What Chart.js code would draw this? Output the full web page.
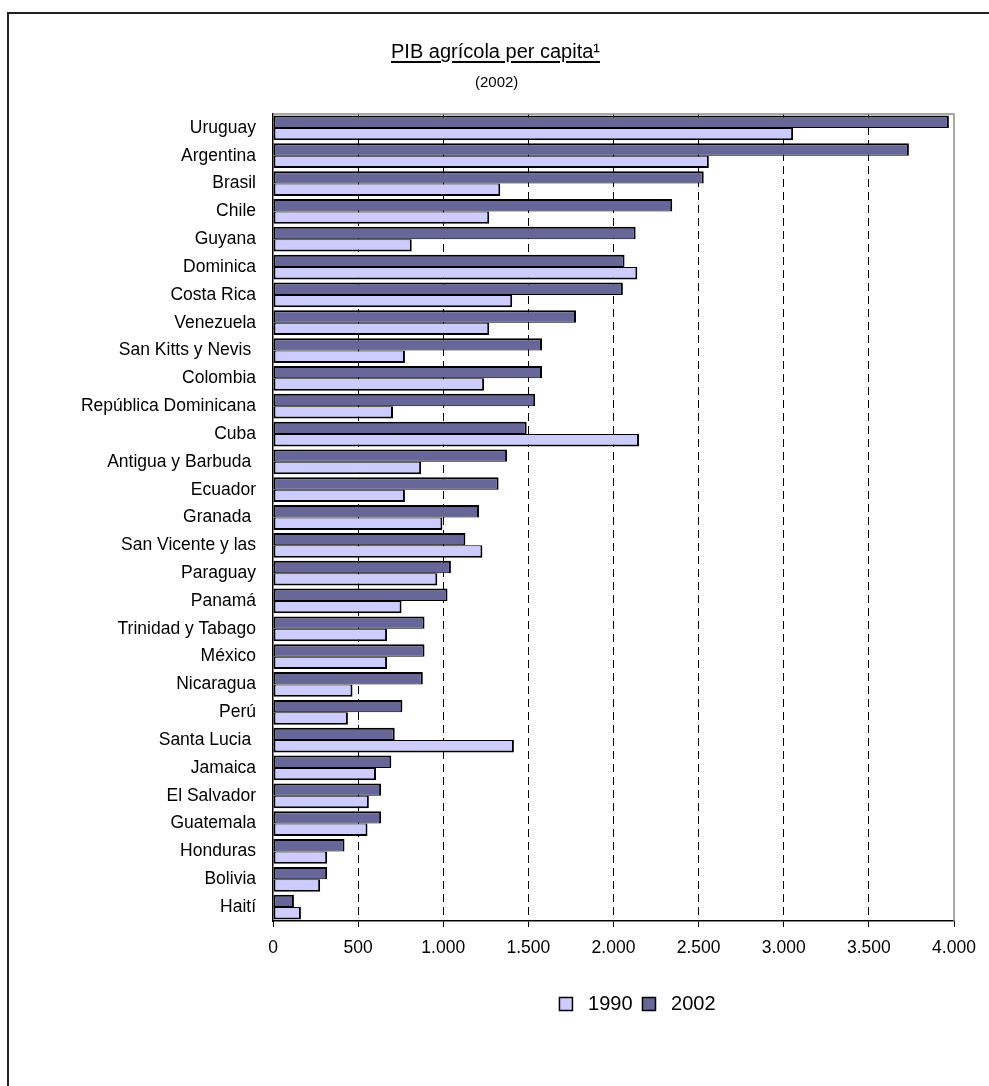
<!DOCTYPE html>
<html>
<head>
<meta charset="utf-8">
<script src="https://cdn.jsdelivr.net/npm/chart.js@4.4.1/dist/chart.umd.min.js"></script>
<style>
  body { margin: 0; background: #fff; overflow: hidden; }
  #wrap { position: relative; width: 989px; height: 1086px; }
  #frame { position: absolute; left: 7px; top: 12px; width: 1200px; height: 1200px;
           border-left: 2px solid #222; border-top: 2px solid #222; }
  #chart { position: absolute; left: 0; top: 0; }
  .ttl { position: absolute; font-family: 'Liberation Sans', Arial, sans-serif; color: #000; white-space: nowrap; }
  #title { left: 391px; top: 41px; font-size: 20px; line-height: 20px; text-decoration: underline; text-underline-offset: 3px; }
  #sub { left: 475px; top: 74px; font-size: 15px; line-height: 15px; }
</style>
</head>
<body>
<div id="wrap">
  <div id="frame"></div>
  <canvas id="chart" width="989" height="1086"></canvas>
  <div id="title" class="ttl">PIB agrícola per capita¹</div>
  <div id="sub" class="ttl">(2002)</div>
</div>
<script>
var countries = ['Uruguay', 'Argentina', 'Brasil', 'Chile', 'Guyana', 'Dominica', 'Costa Rica',
    'Venezuela', 'San Kitts y Nevis ', 'Colombia', 'República Dominicana', 'Cuba',
    'Antigua y Barbuda ', 'Ecuador', 'Granada ', 'San Vicente y las', 'Paraguay', 'Panamá',
    'Trinidad y Tabago', 'México', 'Nicaragua', 'Perú', 'Santa Lucia ', 'Jamaica',
    'El Salvador', 'Guatemala', 'Honduras', 'Bolivia', 'Haití'];
var values2002 = [3970, 3735, 2530, 2345, 2130, 2065, 2055, 1780, 1580, 1580, 1540, 1490,
    1375, 1325, 1210, 1130, 1045, 1025, 890, 890, 880, 760, 715, 695, 635, 635, 420, 318, 123];
var values1990 = [3055, 2560, 1335, 1270, 815, 2140, 1405, 1270, 775, 1240, 705, 2150,
    870, 775, 995, 1230, 965, 755, 670, 670, 467, 440, 1415, 605, 563, 555, 318, 277, 164];
var xTicks = [0, 500, 1000, 1500, 2000, 2500, 3000, 3500, 4000];

var FONT = "'Liberation Sans', Arial, sans-serif";

function fmt(v){
    return String(v).replace(/\B(?=(\d{3})+(?!\d))/g, '.');
}

// gray border on top and right of the plot area
var plotFrame = {
    id: 'plotFrame',
    afterDraw: function(chart){
        var a = chart.chartArea, ctx = chart.ctx;
        ctx.save();
        ctx.strokeStyle = '#8c8c8c';
        ctx.lineWidth = 1.5;
        ctx.beginPath();
        ctx.moveTo(a.left, a.top);
        ctx.lineTo(a.right, a.top);
        ctx.lineTo(a.right, a.bottom);
        ctx.stroke();
        ctx.restore();
    }
};

// legend sits a bit right of the plot centre in the original
var legendShift = {
    id: 'legendShift',
    afterLayout: function(chart){
        chart.legend.left += 24;
        chart.legend.right += 24;
    }
};

var ctx = document.getElementById('chart');
var myChart = new Chart(ctx, {
    type: 'bar',
    data: {
        labels: countries,
        datasets: [
            {
                label: '2002',
                data: values2002,
                backgroundColor: '#666699',
                borderColor: '#000',
                borderWidth: {top: 2, left: 2, right: 2, bottom: 1},
                borderSkipped: false
            },
            {
                label: '1990',
                data: values1990,
                backgroundColor: '#ccccff',
                borderColor: '#000',
                borderWidth: {top: 1, left: 2, right: 2, bottom: 2},
                borderSkipped: false
            }
        ]
    },
    options: {
        indexAxis: 'y',
        responsive: false,
        animation: false,
        categoryPercentage: 0.89,
        barPercentage: 1.0,
        layout: {padding: {top: 114, left: 0, right: 35, bottom: 62}},
        scales: {
            x: {
                min: 0,
                max: 4000,
                afterBuildTicks: function(scale){
                    scale.ticks = xTicks.map(function(v){ return {value: v}; });
                },
                afterFit: function(scale){ scale.height = 63; },
                grid: {
                    color: function(c){
                        var v = c.tick ? c.tick.value : 0;
                        return (v === 0 || v === 4000) ? 'rgba(0,0,0,0)' : '#000';
                    },
                    lineWidth: 1,
                    tickLength: 6,
                    tickColor: '#000',
                    tickWidth: 1,
                    tickBorderDash: []
                },
                border: {display: true, color: '#000', width: 1.5, dash: [8, 5]},
                ticks: {
                    color: '#000',
                    padding: 11,
                    font: {family: FONT, size: 17.5},
                    callback: function(v){ return fmt(v); }
                }
            },
            y: {
                afterFit: function(scale){ scale.width = 273; },
                grid: {display: false, drawTicks: false},
                border: {display: true, color: '#000', width: 1.5},
                ticks: {
                    color: '#000',
                    padding: 17,
                    autoSkip: false,
                    font: {family: FONT, size: 17.5}
                }
            }
        },
        plugins: {
            legend: {
                position: 'bottom',
                fullSize: false,
                reverse: true,
                labels: {
                    color: '#000',
                    boxWidth: 13,
                    boxHeight: 13,
                    padding: 10,
                    font: {family: FONT, size: 20},
                    generateLabels: function(chart){
                        var items = Chart.defaults.plugins.legend.labels.generateLabels(chart);
                        items.forEach(function(it){
                            it.text = ' ' + it.text;
                            it.lineWidth = 1.5;
                        });
                        return items;
                    }
                }
            },
            tooltip: {enabled: false}
        }
    },
    plugins: [plotFrame, legendShift]
});
</script>
</body>
</html>
